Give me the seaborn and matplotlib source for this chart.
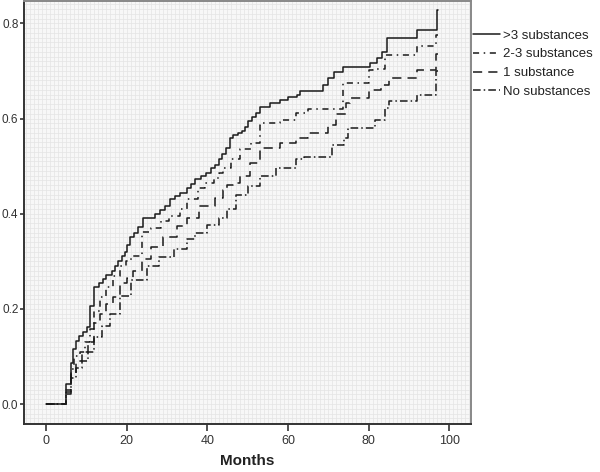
import numpy as np
import pandas as pd
import matplotlib
matplotlib.use("Agg")
import matplotlib.pyplot as plt
import seaborn as sns

# ---- data ----
groups = [">3 substances", "2-3 substances", "1 substance", "No substances"]

t_gt3 = [0, 5.0, 6.1, 6.8, 7.4, 8.3, 9.1, 10.1, 10.9, 11.9, 13.2, 14.2, 15.0, 16.3, 17.1, 17.9,
         18.8, 19.6, 20.2, 20.8, 21.9, 22.9, 24.0, 27.0, 28.3, 29.5, 30.7, 32.0, 33.2, 34.9,
         35.9, 36.9, 38.4, 39.8, 40.9, 41.9, 42.8, 43.6, 44.6, 45.6, 46.5, 47.5, 48.5, 49.3,
         50.2, 51.0, 52.0, 53.1, 55.5, 58.0, 60.1, 62.2, 63.0, 68.7, 70.0, 71.5, 73.6, 80.3,
         82.0, 83.4, 84.6, 91.9, 96.9, 97.1]
v_gt3 = [0, 0.042, 0.087, 0.115, 0.133, 0.143, 0.151, 0.162, 0.206, 0.245, 0.255, 0.262, 0.272,
         0.279, 0.29, 0.30, 0.311, 0.32, 0.335, 0.35, 0.36, 0.371, 0.391, 0.40, 0.408, 0.416,
         0.43, 0.437, 0.444, 0.455, 0.463, 0.472, 0.479, 0.486, 0.495, 0.503, 0.515, 0.525,
         0.538, 0.56, 0.565, 0.57, 0.573, 0.583, 0.594, 0.604, 0.611, 0.625, 0.632, 0.639,
         0.646, 0.65, 0.657, 0.671, 0.685, 0.697, 0.709, 0.716, 0.728, 0.74, 0.769, 0.787,
         0.828, 0.828]

t_23 = [0, 5.0, 6.1, 7.0, 8.5, 9.8, 11.0, 12.0, 13.5, 15.0, 16.5, 18.4, 19.8, 21.2, 23.8, 26.0,
        28.6, 30.5, 33.2, 35.0, 37.6, 39.5, 41.7, 42.8, 44.0, 46.0, 48.0, 50.9, 53.0, 53.8,
        58.0, 62.0, 65.0, 73.7, 80.0, 81.0, 84.0, 92.0, 96.8, 97.1]
v_23 = [0, 0.03, 0.073, 0.10, 0.109, 0.13, 0.157, 0.195, 0.225, 0.245, 0.27, 0.29, 0.30, 0.311,
        0.362, 0.37, 0.384, 0.396, 0.409, 0.43, 0.454, 0.465, 0.476, 0.486, 0.497, 0.515, 0.535,
        0.549, 0.587, 0.59, 0.597, 0.612, 0.62, 0.674, 0.702, 0.705, 0.734, 0.753, 0.775, 0.775]

t_1 = [0, 5.0, 6.1, 7.5, 9.0, 10.5, 12.0, 13.5, 15.0, 16.5, 18.4, 20.0, 21.5, 23.8, 26.0, 29.0,
       32.5, 35.0, 38.0, 42.0, 44.0, 44.8, 46.5, 48.0, 50.5, 53.0, 58.0, 62.0, 65.0, 70.0, 72.0,
       74.3, 75.5, 80.0, 83.0, 85.0, 91.9, 96.8, 97.1]
v_1 = [0, 0.025, 0.065, 0.09, 0.11, 0.13, 0.17, 0.19, 0.21, 0.225, 0.255, 0.265, 0.28, 0.304,
       0.329, 0.35, 0.374, 0.391, 0.416, 0.433, 0.45, 0.46, 0.465, 0.479, 0.507, 0.538, 0.549,
       0.56, 0.57, 0.587, 0.61, 0.632, 0.643, 0.66, 0.671, 0.685, 0.702, 0.735, 0.735]

t_0 = [0, 5.0, 6.1, 7.5, 9.0, 10.5, 12.0, 14.0, 16.0, 18.4, 21.0, 25.0, 28.0, 31.7, 34.9, 37.0,
       40.0, 43.0, 44.8, 47.0, 50.0, 53.0, 57.0, 62.0, 64.0, 71.0, 74.0, 75.0, 81.5, 84.0, 85.0,
       92.0, 96.8, 97.1]
v_0 = [0, 0.02, 0.055, 0.075, 0.09, 0.11, 0.14, 0.165, 0.19, 0.227, 0.26, 0.29, 0.308, 0.325,
       0.346, 0.36, 0.377, 0.391, 0.409, 0.44, 0.458, 0.479, 0.496, 0.514, 0.52, 0.545, 0.56,
       0.58, 0.597, 0.622, 0.636, 0.65, 0.70, 0.70]

x_ticks = [0, 20, 40, 60, 80, 100]
y_ticks = [0.0, 0.2, 0.4, 0.6, 0.8]

series = {groups[0]: (t_gt3, v_gt3), groups[1]: (t_23, v_23),
          groups[2]: (t_1, v_1), groups[3]: (t_0, v_0)}
frames = [pd.DataFrame({"Months": t, "value": v, "group": g}) for g, (t, v) in series.items()]
df = pd.concat(frames, ignore_index=True)

styles = {groups[0]: "-",
          groups[1]: (0, (4, 3, 1, 3)),
          groups[2]: (0, (6, 4)),
          groups[3]: (0, (5, 2, 1, 2))}

sns.set_style("white")
plt.rcParams["font.family"] = ["Liberation Sans", "DejaVu Sans"]

fig = plt.figure(figsize=(6.0, 4.72), dpi=100)
ax = fig.add_axes([24 / 600, 1 - 424 / 472, (471 - 24) / 600, (424 - 1) / 472])
ax.set_facecolor("#f7f7f7")

for g in groups:
    sub = df[df["group"] == g]
    sns.lineplot(data=sub, x="Months", y="value", ax=ax, color="#1a1a1a",
                 linestyle=styles[g], linewidth=1.1, drawstyle="steps-post",
                 estimator=None, sort=False, label=g, legend=False)

ax.set_xlim(-5.45, 105.4)
ax.set_ylim(-0.042, 0.847)
ax.set_xticks(x_ticks)
ax.set_yticks(y_ticks)
ax.set_yticklabels([f"{v:.1f}" for v in y_ticks])
ax.set_xticks(np.arange(-5, 106, 1.0), minor=True)
ax.set_yticks(np.arange(-0.04, 0.85, 0.01), minor=True)
ax.grid(which="minor", color="#e4e4e4", linewidth=0.5)
ax.grid(which="major", color="#e4e4e4", linewidth=0.5)
ax.tick_params(which="minor", length=0)
ax.tick_params(axis="x", which="major", direction="out", length=5, width=1.2,
               color="#333333", labelsize=9, labelcolor="#333333", pad=3, bottom=True)
ax.tick_params(axis="y", which="major", direction="out", length=3, width=1.2,
               color="#333333", labelsize=8.5, labelcolor="#333333", pad=1, left=True)

for s in ["left", "bottom"]:
    ax.spines[s].set_color("#333333")
    ax.spines[s].set_linewidth(1.4)
for s in ["top", "right"]:
    ax.spines[s].set_color("#888888")
    ax.spines[s].set_linewidth(1.4)

ax.set_xlabel("Months", fontsize=11, fontweight="bold", color="#222222", labelpad=5)
ax.set_ylabel("")

handles, labels = ax.get_legend_handles_labels()
fig.legend(handles, labels, loc="upper left", bbox_to_anchor=(472 / 600, 1 - 28 / 472),
           frameon=False, fontsize=9.5, handlelength=2.0, handletextpad=0.25,
           labelspacing=0.5, borderaxespad=0, borderpad=0.1, labelcolor="#222222")

fig.savefig("out.png", dpi=100, facecolor="white")
